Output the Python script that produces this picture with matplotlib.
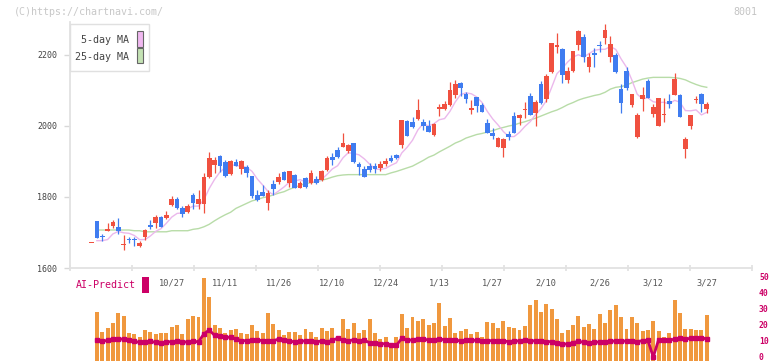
import matplotlib
matplotlib.use("Agg")
import matplotlib.pyplot as plt
from matplotlib.patches import Rectangle
import numpy as np
import pandas as pd

plt.rcParams["font.family"] = ["DejaVu Sans Mono"]

W, H = 772, 361
nan = float("nan")

# daily candles, 10/3 .. 3/27
opens = [1670, 1732, 1687, 1705, 1718, 1715, 1664, 1680, 1680, 1663,
         1686, 1720, 1727, 1745, 1741, 1777, 1793, 1768, 1758, 1806,
         1780, 1780, 1856, 1891, 1915, 1899, 1865, 1899, 1880, 1885,
         1859, 1806, 1814, 1784, 1837, 1842, 1871, 1839, 1862, 1826,
         1854, 1840, 1850, 1848, 1876, 1914, 1932, 1942, 1930, 1951,
         1893, 1879, 1888, 1886, 1881, 1894, 1911, 1918, 1946, 2014,
         2010, 2019, 2011, 2000, 1975, 2048, 2048, 2059, 2087, 2122,
         2089, 2045, 2081, 2059, 2009, 1979, 1942, 1937, 1977, 2028,
         2022, 2044, 2085, 2037, 2117, 2075, 2151, 2222, 2216, 2130,
         2154, 2228, 2252, 2167, 2205, 2226, 2249, 2193, 2200, 2103,
         2155, 2059, 1970, 2077, 2127, 2034, 2001, 2032, 2070, 2087,
         2087, 1934, 2001, 2073, 2090, 2048]
highs = [1670, 1733, 1695, 1726, 1735, 1741, 1693, 1686, 1688, 1675,
         1711, 1735, 1749, 1747, 1761, 1803, 1800, 1775, 1779, 1810,
         1820, 1867, 1927, 1914, 1917, 1903, 1904, 1908, 1904, 1890,
         1860, 1820, 1834, 1820, 1848, 1868, 1872, 1874, 1864, 1844,
         1856, 1876, 1860, 1875, 1915, 1923, 1942, 1981, 1950, 1953,
         1898, 1888, 1895, 1895, 1901, 1911, 1918, 1920, 2018, 2018,
         2026, 2075, 2019, 2017, 2009, 2061, 2070, 2125, 2130, 2124,
         2096, 2073, 2082, 2064, 2020, 1994, 1969, 1965, 1986, 2040,
         2034, 2069, 2094, 2073, 2127, 2146, 2235, 2263, 2219, 2165,
         2211, 2270, 2259, 2205, 2219, 2240, 2287, 2254, 2205, 2118,
         2167, 2091, 2037, 2109, 2132, 2062, 2080, 2080, 2091, 2148,
         2090, 1970, 2031, 2085, 2094, 2069]
lows = [1670, 1684, 1677, 1704, 1714, 1696, 1651, 1671, 1663, 1658,
        1679, 1711, 1714, 1716, 1738, 1775, 1765, 1745, 1754, 1765,
        1765, 1754, 1854, 1868, 1871, 1857, 1862, 1886, 1865, 1857,
        1797, 1789, 1803, 1763, 1806, 1837, 1847, 1827, 1825, 1824,
        1824, 1838, 1838, 1846, 1874, 1890, 1909, 1940, 1923, 1897,
        1862, 1855, 1871, 1868, 1873, 1887, 1898, 1908, 1939, 1971,
        1994, 2018, 1989, 1983, 1972, 2028, 2046, 2057, 2078, 2085,
        2066, 2034, 2040, 2039, 1980, 1963, 1941, 1914, 1960, 1980,
        2003, 2023, 2030, 2000, 2062, 2068, 2149, 2207, 2122, 2120,
        2151, 2214, 2181, 2153, 2167, 2209, 2231, 2181, 2149, 2037,
        2101, 2053, 1967, 2043, 2080, 2025, 2001, 2012, 2051, 2087,
        2025, 1909, 1992, 2064, 2040, 2037]
closes = [1670, 1685, 1686, 1709, 1730, 1705, 1666, 1679, 1678, 1671,
          1707, 1716, 1744, 1716, 1748, 1793, 1768, 1751, 1775, 1784,
          1794, 1856, 1910, 1903, 1888, 1859, 1901, 1888, 1901, 1868,
          1804, 1792, 1804, 1810, 1823, 1857, 1848, 1873, 1826, 1840,
          1827, 1868, 1840, 1873, 1909, 1904, 1914, 1951, 1946, 1898,
          1885, 1857, 1876, 1878, 1893, 1900, 1900, 1911, 2017, 1973,
          1998, 2045, 2000, 1984, 2005, 2054, 2062, 2101, 2118, 2108,
          2077, 2050, 2056, 2040, 1981, 1972, 1965, 1963, 1970, 1981,
          2031, 2048, 2031, 2068, 2066, 2141, 2235, 2227, 2144, 2154,
          2211, 2268, 2193, 2194, 2200, 2224, 2270, 2231, 2153, 2066,
          2108, 2090, 2031, 2087, 2080, 2053, 2080, 2034, 2063, 2132,
          2025, 1963, 2031, 2076, 2061, 2062]

# first points of the 5-day MA (window reaches back before the chart)
ma5_head = [nan, 1677, 1677, 1680]

ma25 = [nan, 1707, 1707, 1707, 1707, 1707, 1707, 1707, 1705, 1705,
        1702, 1702, 1702, 1702, 1702, 1705, 1705, 1705, 1705, 1709,
        1711, 1716, 1723, 1733, 1742, 1750, 1757, 1768, 1775, 1782,
        1789, 1793, 1798, 1801, 1806, 1811, 1815, 1822, 1827, 1833,
        1838, 1840, 1843, 1847, 1851, 1856, 1860, 1862, 1863, 1863,
        1863, 1863, 1863, 1863, 1863, 1863, 1868, 1872, 1877, 1882,
        1887, 1895, 1903, 1912, 1918, 1927, 1935, 1943, 1952, 1958,
        1966, 1971, 1976, 1979, 1983, 1987, 1992, 1996, 2000, 2003,
        2008, 2012, 2017, 2022, 2028, 2034, 2040, 2045, 2052, 2060,
        2066, 2073, 2078, 2082, 2086, 2089, 2095, 2104, 2109, 2111,
        2115, 2122, 2127, 2132, 2135, 2137, 2137, 2137, 2137, 2136,
        2134, 2130, 2123, 2117, 2112, 2109]

volume = [nan, 27.9, 15.8, 18.1, 21.2, 27.5, 25.6, 15.0, 14.2, 12.5,
          16.9, 15.6, 14.4, 15.0, 15.0, 18.8, 20.0, 14.4, 23.5, 25.6,
          25.0, 49.4, 37.5, 20.0, 18.1, 15.0, 16.9, 17.5, 15.0, 14.4,
          20.0, 16.3, 15.0, 27.5, 20.6, 16.9, 13.8, 15.6, 15.6, 13.8,
          17.5, 15.6, 12.5, 18.1, 16.3, 18.1, 12.5, 23.8, 17.5, 21.2,
          15.0, 16.9, 23.8, 15.0, 11.3, 12.7, 7.9, 12.7, 26.9, 18.1,
          25.2, 22.7, 23.8, 20.0, 21.2, 33.8, 19.6, 24.4, 15.0, 16.5,
          17.5, 14.4, 15.6, 12.7, 22.1, 21.2, 18.1, 22.7, 18.8, 18.1,
          16.9, 19.6, 32.5, 35.6, 28.3, 33.1, 30.0, 23.8, 15.2, 16.9,
          20.0, 25.6, 18.8, 20.6, 17.5, 26.9, 21.2, 29.4, 32.5, 25.0,
          17.5, 25.0, 21.2, 16.5, 16.9, 22.5, 16.5, 12.7, 15.0, 35.6,
          27.7, 17.5, 17.5, 16.9, 16.9, 26.2]

ai_predict = [nan, 10.6, 9.8, 10.4, 11.2, 11.2, 11.2, 10.6, 9.8, 9.1,
              9.1, 9.8, 9.1, 8.9, 9.5, 9.5, 9.8, 9.1, 9.6, 9.8,
              9.5, 14.4, 16.9, 13.5, 13.1, 12.3, 12.3, 11.2, 10.2, 10.2,
              10.6, 10.6, 10.2, 10.2, 10.2, 11.2, 10.6, 10.0, 9.4, 10.0,
              10.0, 10.0, 9.4, 10.0, 9.4, 10.4, 11.7, 10.6, 10.0, 10.8,
              10.0, 10.6, 8.8, 8.8, 8.3, 8.3, 7.3, 7.3, 11.7, 10.6,
              10.6, 11.2, 11.2, 10.6, 10.4, 11.2, 10.8, 10.6, 10.6, 10.0,
              10.6, 10.4, 10.4, 10.2, 10.2, 10.2, 10.0, 10.0, 9.6, 10.0,
              10.0, 10.4, 10.2, 10.0, 10.0, 9.6, 9.6, 8.8, 8.1, 8.1,
              9.0, 9.8, 9.2, 9.0, 9.2, 9.4, 9.4, 9.8, 10.0, 10.2,
              9.8, 10.0, 9.6, 10.2, 10.4, 0.0, 10.8, 10.8, 10.8, 11.0,
              11.9, 11.2, 11.7, 11.7, 12.1, 11.2]

date_labels = ["10/27", "11/11", "11/26", "12/10", "12/24", "1/13",
               "1/27", "2/10", "2/26", "3/12", "3/27"]

# ---- layout helpers (pixel -> figure fraction) ----
def fx(px):
    return px / W

def fy(py):
    return 1 - py / H

STEP = 5.35      # px per trading day
X_FIRST = 91.5   # px of first candle
AX_L, AX_R = 70, 752
ZERO_Y = 357.0   # px of volume zero line
VSCALE = 1.6     # px per volume unit

def px_to_idx(px):
    return (px - X_FIRST) / STEP

n = len(closes)
idx = np.arange(n)
o = np.array(opens, float)
c = np.array(closes, float)
hi = np.array(highs, float)
lo = np.array(lows, float)

ma5 = pd.Series(c).rolling(5).mean().to_numpy()
ma5[:len(ma5_head)] = ma5_head

RED = "#f0503f"
BLUE = "#3f7cf0"
MAGENTA = "#cc0066"

fig = plt.figure(figsize=(W / 100, H / 100), dpi=100)

# ---- main price panel ----
ax = fig.add_axes([fx(AX_L), fy(268), (AX_R - AX_L) / W, (268 - 22) / H])
ax.set_xlim(px_to_idx(AX_L), px_to_idx(AX_R))
ax.set_ylim(1600, 1600 + (268 - 22) / 0.355)

ax.plot(idx, ma25, color="#b8dca8", lw=1.0, zorder=1)
ax.plot(idx, ma5, color="#ebb8ec", lw=1.0, zorder=1)

up = c >= o
colors = np.where(up, RED, BLUE)
ax.vlines(idx, lo, hi, colors=colors, lw=0.9, zorder=2)
body_lo = np.minimum(o, c)
body_h = np.maximum(np.abs(c - o), 3.0)
ax.bar(idx, body_h, bottom=body_lo, width=0.86, color=colors,
       linewidth=0, zorder=3)

for s in ["top", "right"]:
    ax.spines[s].set_visible(False)
for s in ["left", "bottom"]:
    ax.spines[s].set_color("#e2e2e2")
    ax.spines[s].set_linewidth(1.3)

ax.set_yticks([1600, 1800, 2000, 2200])
ax.set_yticklabels(["1600", "1800", "2000", "2200"])
ax.tick_params(axis="y", length=4, width=1, color="#d8d8d8", pad=5,
               labelsize=6, labelcolor="#444444")
ax.set_xticks([px_to_idx(AX_L + 62 * k) for k in range(12)])
ax.set_xticklabels([])
ax.tick_params(axis="x", direction="inout", length=5, width=1.2,
               color="#e0e0e0")
ax.patch.set_alpha(0)

# ---- volume / AI-Predict panel ----
axv = fig.add_axes([fx(AX_L), 0, (AX_R - AX_L) / W, (361 - 268) / H],
                   sharex=ax)
v_bottom = -(361 - ZERO_Y) / VSCALE
axv.set_ylim(v_bottom, (ZERO_Y - 268) / VSCALE)
vol = np.array(volume, float)
# bars run down to the panel edge, tops at the volume value
axv.bar(idx, vol - v_bottom, bottom=v_bottom, width=0.74,
        color="#f0983e", linewidth=0, zorder=2)
axv.plot(idx, ai_predict, color=MAGENTA, lw=2.0, marker="s", ms=2.5,
         zorder=3)
for s in axv.spines.values():
    s.set_visible(False)
axv.yaxis.tick_right()
axv.set_yticks([0, 10, 20, 30, 40, 50])
axv.tick_params(axis="y", length=0, pad=5, labelsize=5.8,
                labelcolor=MAGENTA)
for t in axv.get_yticklabels():
    t.set_fontweight("bold")
axv.tick_params(axis="x", length=0, labelbottom=False)
axv.patch.set_alpha(0)

# date labels every 10 trading days
for k, lab in enumerate(date_labels):
    axv.text(15 + 10 * k, (ZERO_Y - 282.5) / VSCALE, lab, ha="center",
             va="center", fontsize=6.2, color="#555555")

# AI-Predict label
fig.text(fx(76), fy(285), "AI-Predict", fontsize=7.2, color=MAGENTA,
         ha="left", va="center")
fig.add_artist(Rectangle((fx(142), fy(293)), 7 / W, 16 / H,
                         transform=fig.transFigure, color=MAGENTA, lw=0))

# ---- legend box ----
fig.add_artist(Rectangle((fx(70), fy(71)), 79 / W, 47 / H,
                         transform=fig.transFigure, facecolor="white",
                         edgecolor="#e0e0e0", lw=1.0, zorder=5))
fig.text(fx(129), fy(40), "5-day MA", fontsize=7.2, color="#444444",
         ha="right", va="center", zorder=6)
fig.text(fx(129), fy(57), "25-day MA", fontsize=7.2, color="#444444",
         ha="right", va="center", zorder=6)
fig.add_artist(Rectangle((fx(136.5), fy(46.5)), 6 / W, 15 / H,
                         transform=fig.transFigure, facecolor="#f0b8f0",
                         edgecolor="#666666", lw=0.8, zorder=6))
fig.add_artist(Rectangle((fx(136.5), fy(63)), 6 / W, 15 / H,
                         transform=fig.transFigure, facecolor="#c4e2b4",
                         edgecolor="#666666", lw=0.8, zorder=6))

# watermark texts
fig.text(fx(14), fy(12), "(C)https://chartnavi.com/", fontsize=7.2,
         color="#c8c8c8", ha="left", va="center")
fig.text(fx(757), fy(12), "8001", fontsize=7.2, color="#c4c4c4",
         ha="right", va="center")

fig.savefig("out.png", dpi=100)
